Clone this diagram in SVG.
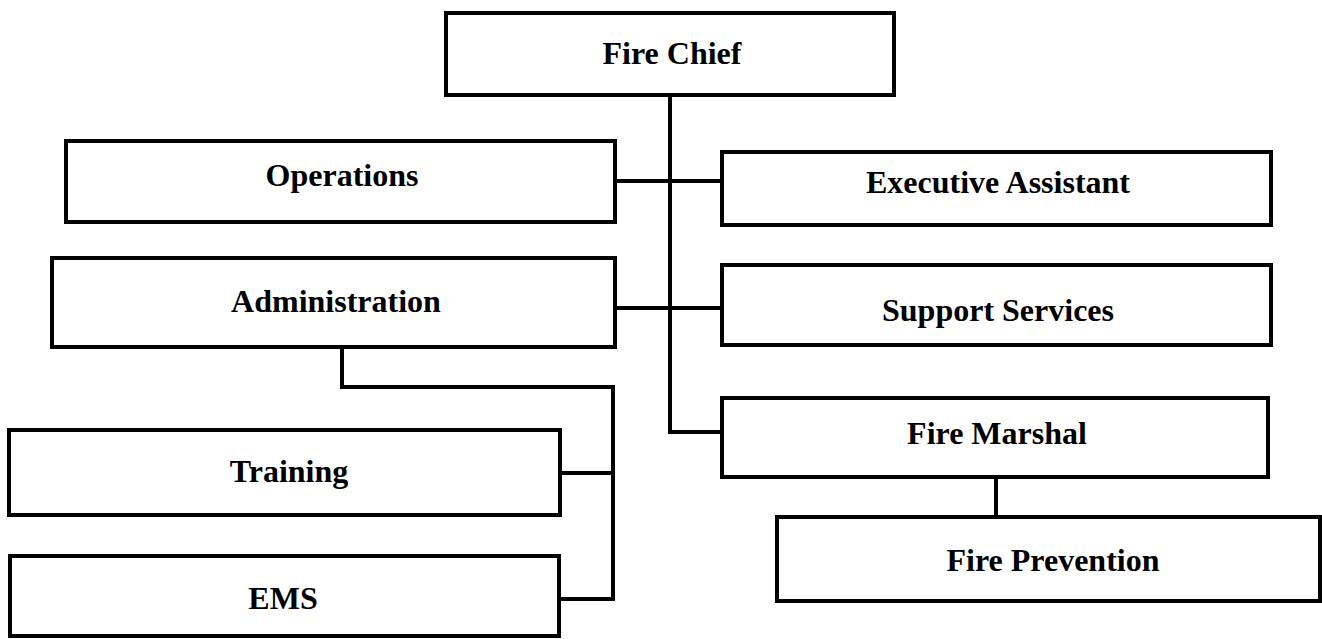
<svg xmlns="http://www.w3.org/2000/svg" width="1322" height="639" viewBox="0 0 1322 639">
  <style>
    .box { fill: #ffffff; stroke: #000000; stroke-width: 4; }
    .lbl { font-family: "Liberation Serif", "Times New Roman", serif; font-weight: bold; font-size: 32px; fill: #000000; text-anchor: middle; }
    .link { fill: none; stroke: #000000; stroke-width: 4; }
  </style>
  <rect width="1322" height="639" fill="#ffffff"/>

  <g id="connectors">
    <path class="link" d="M670 95 V432 H722"/>
    <path class="link" d="M615 181 H722"/>
    <path class="link" d="M615 308 H722"/>
    <path class="link" d="M342 347 V387 H613 V599 H559"/>
    <path class="link" d="M560 473 H613"/>
    <path class="link" d="M996 477 V517"/>
  </g>

  <g id="fire-chief">
    <rect class="box" x="446" y="13" width="448" height="82"/>
    <text class="lbl" x="672" y="64">Fire Chief</text>
  </g>
  <g id="operations">
    <rect class="box" x="66" y="141" width="549" height="81"/>
    <text class="lbl" x="342" y="186">Operations</text>
  </g>
  <g id="executive-assistant">
    <rect class="box" x="722" y="152" width="549" height="73"/>
    <text class="lbl" x="998" y="193">Executive Assistant</text>
  </g>
  <g id="administration">
    <rect class="box" x="52" y="258" width="563" height="89"/>
    <text class="lbl" x="336" y="312">Administration</text>
  </g>
  <g id="support-services">
    <rect class="box" x="722" y="265" width="549" height="80"/>
    <text class="lbl" x="998" y="321">Support Services</text>
  </g>
  <g id="fire-marshal">
    <rect class="box" x="722" y="398" width="546" height="79"/>
    <text class="lbl" x="997" y="444">Fire Marshal</text>
  </g>
  <g id="fire-prevention">
    <rect class="box" x="777" y="517" width="543" height="84"/>
    <text class="lbl" x="1053" y="571">Fire Prevention</text>
  </g>
  <g id="training">
    <rect class="box" x="9" y="430" width="551" height="85"/>
    <text class="lbl" x="289" y="482">Training</text>
  </g>
  <g id="ems">
    <rect class="box" x="10" y="556" width="549" height="80"/>
    <text class="lbl" x="283" y="609">EMS</text>
  </g>
</svg>
